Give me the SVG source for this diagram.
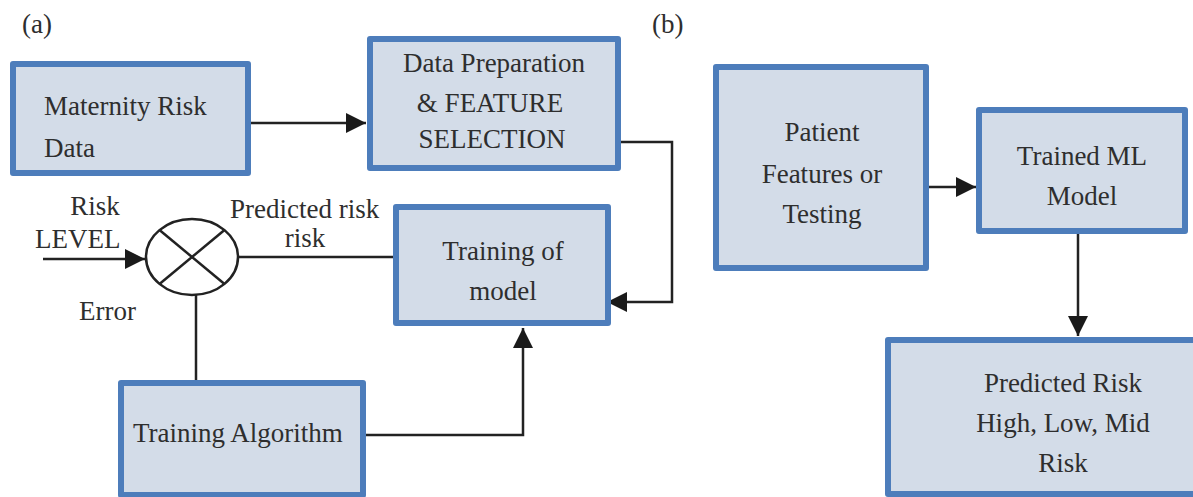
<svg xmlns="http://www.w3.org/2000/svg" width="1193" height="497" viewBox="0 0 1193 497">
<style>
.box{fill:#d3dce8;stroke:#4d7dbb;stroke-width:6;stroke-linejoin:round}
.t{font-family:'Liberation Serif','Times New Roman',serif;font-size:27px;fill:#2e2e2e}
.c{text-anchor:middle}
.ln{fill:none;stroke:#222;stroke-width:2.5}
</style>
<defs>
<marker id="ahb" viewBox="0 0 10 10" refX="10" refY="5" markerWidth="20" markerHeight="20" markerUnits="userSpaceOnUse" orient="auto">
<path d="M0,0 L10,5 L0,10 Z" fill="#1a1a1a"/>
</marker>
</defs>
<rect width="1193" height="497" fill="#fff"/>
<text class="t" x="22" y="33">(a)</text>
<text class="t" x="652" y="33">(b)</text>
<g id="connectors">
<line class="ln" x1="250" y1="123" x2="366" y2="123" marker-end="url(#ahb)"/>
<polyline class="ln" points="621,142 672,142 672,302 607,302" marker-end="url(#ahb)"/>
<line class="ln" x1="43" y1="259" x2="145" y2="259" marker-end="url(#ahb)"/>
<line class="ln" x1="238" y1="257" x2="394" y2="257"/>
<line class="ln" x1="196" y1="295" x2="196" y2="381"/>
<polyline class="ln" points="366,435 523,435 523,328" marker-end="url(#ahb)"/>
<line class="ln" x1="929" y1="187" x2="976" y2="187" marker-end="url(#ahb)"/>
<line class="ln" x1="1078" y1="233" x2="1078" y2="336" marker-end="url(#ahb)"/>
</g>
<g id="sum">
<ellipse cx="192" cy="257" rx="46" ry="38" fill="#fff" stroke="#222" stroke-width="2.5"/>
<line class="ln" x1="159.5" y1="230" x2="224.5" y2="284"/>
<line class="ln" x1="159.5" y1="284" x2="224.5" y2="230"/>
</g>
<g id="labels">
<text class="t" x="95" y="215" text-anchor="middle">Risk</text>
<text class="t" x="35" y="248">LEVEL</text>
<text class="t" x="230" y="218">Predicted risk</text>
<text class="t" x="305" y="247" text-anchor="middle">risk</text>
<text class="t" x="79" y="320">Error</text>
</g>
<g id="maternity">
<rect class="box" x="13" y="64" width="235" height="109"/>
<text class="t" x="44" y="115">Maternity Risk</text>
<text class="t" x="44" y="157">Data</text>
</g>
<g id="dataprep">
<rect class="box" x="370" y="39" width="248" height="129"/>
<text class="t c" x="494" y="72">Data Preparation</text>
<text class="t c" x="490" y="112">&amp; FEATURE</text>
<text class="t c" x="492" y="148">SELECTION</text>
</g>
<g id="training">
<rect class="box" x="396" y="207" width="212" height="116"/>
<text class="t c" x="503" y="260">Training of</text>
<text class="t c" x="503" y="300">model</text>
</g>
<g id="algorithm">
<rect class="box" x="121" y="383" width="242" height="112"/>
<text class="t" x="133" y="442">Training Algorithm</text>
</g>
<g id="patient">
<rect class="box" x="716" y="67" width="210" height="201"/>
<text class="t c" x="822" y="141">Patient</text>
<text class="t c" x="822" y="183">Features or</text>
<text class="t c" x="822" y="223">Testing</text>
</g>
<g id="trained">
<rect class="box" x="979" y="110" width="206" height="121"/>
<text class="t c" x="1082" y="165">Trained ML</text>
<text class="t c" x="1082" y="205">Model</text>
</g>
<g id="predicted">
<rect class="box" x="888" y="340" width="320" height="154"/>
<text class="t c" x="1063" y="392">Predicted Risk</text>
<text class="t c" x="1063" y="432">High, Low, Mid</text>
<text class="t c" x="1063" y="472">Risk</text>
</g>
</svg>
